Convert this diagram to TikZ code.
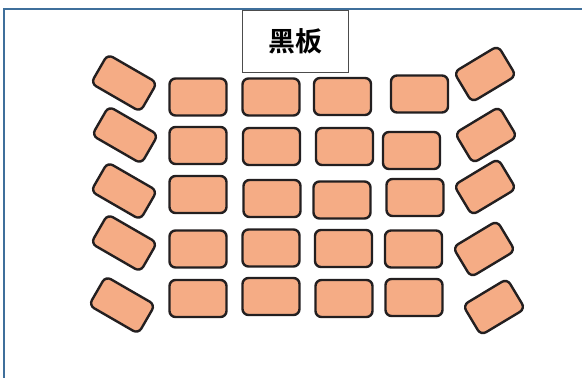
\documentclass[tikz,border=0pt]{standalone}
\usepackage{fontspec}
\newfontfamily\cjkfont{Noto Sans CJK SC}[BoldFont={* Bold}]
\definecolor{deskfill}{HTML}{F5AC85}
\definecolor{deskline}{HTML}{231F20}
\definecolor{framecol}{HTML}{3F6F9B}
\begin{document}
\begin{tikzpicture}[x=1pt,y=-1pt,
  desk/.style={draw=deskline, fill=deskfill, line width=2.4pt, rounded corners=6pt,
    rectangle, minimum width=57pt, minimum height=37pt, inner sep=0pt},
  ldesk/.style={desk, minimum width=57pt, minimum height=33.5pt, rotate=-30},
  rdesk/.style={desk, minimum width=51.5pt, minimum height=35pt, rotate=31},
  board/.style={draw=black!70, fill=white, line width=0.9pt, rectangle,
    minimum width=106pt, minimum height=62pt, inner sep=0pt,
    font=\cjkfont\bfseries\fontsize{27}{27}\selectfont}]
\useasboundingbox (0,0) rectangle (582,378);
\coordinate (fTL) at (4,9);
\coordinate (fTR) at (582,9);
\coordinate (fBL) at (4,378);
\draw[framecol, line width=2.6pt] (fTR) -- (fTL) -- (fBL);
\node[board] (bb) at (295,41) {黑板};
% upright desks
\node[desk] (d11) at (198,97) {};
\node[desk] (d12) at (271,97) {};
\node[desk] (d13) at (342.5,96.5) {};
\node[desk] (d14) at (419.5,94) {};
\node[desk] (d21) at (198,145.5) {};
\node[desk] (d22) at (271.5,146.5) {};
\node[desk] (d23) at (344.5,146.5) {};
\node[desk] (d24) at (411.5,150.5) {};
\node[desk] (d31) at (198,194.5) {};
\node[desk] (d32) at (272,198.5) {};
\node[desk] (d33) at (342,200) {};
\node[desk] (d34) at (415,197.5) {};
\node[desk] (d41) at (198,249) {};
\node[desk] (d42) at (271,248) {};
\node[desk] (d43) at (343.5,248.5) {};
\node[desk] (d44) at (413.5,249) {};
\node[desk] (d51) at (198,298.5) {};
\node[desk] (d52) at (271,296.5) {};
\node[desk] (d53) at (344,298.5) {};
\node[desk] (d54) at (414,297.5) {};
% left angled desks
\node[ldesk] (l1) at (124,83) {};
\node[ldesk] (l2) at (125,135) {};
\node[ldesk] (l3) at (124,191) {};
\node[ldesk] (l4) at (124,243) {};
\node[ldesk] (l5) at (122,305) {};
% right angled desks
\node[rdesk] (r1) at (485,74) {};
\node[rdesk] (r2) at (486,135) {};
\node[rdesk] (r3) at (485,187) {};
\node[rdesk] (r4) at (484,249) {};
\node[rdesk] (r5) at (494,307) {};
\end{tikzpicture}
\end{document}
